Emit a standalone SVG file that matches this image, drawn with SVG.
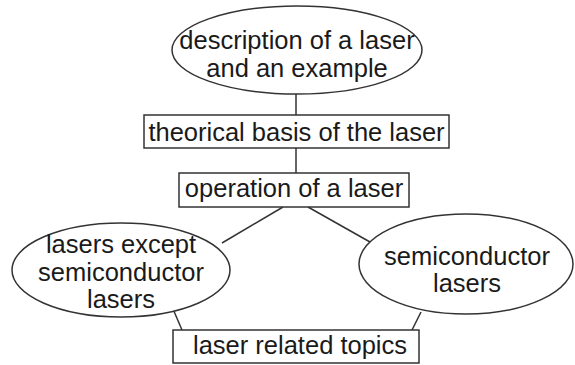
<svg xmlns="http://www.w3.org/2000/svg" width="575" height="365" viewBox="0 0 575 365">
<style>
.s{fill:#fff;stroke:#333;stroke-width:1.5}
.c{fill:none;stroke:#333;stroke-width:1.5}
text{font-family:"Liberation Sans",Arial,sans-serif;font-size:25.5px;fill:#1a1a1a;text-anchor:middle}
</style>
<rect width="575" height="365" fill="#fff"/>
<g id="connectors">
<line class="c" x1="296" y1="94" x2="296" y2="116"/>
<line class="c" x1="296" y1="148" x2="296" y2="173"/>
<line class="c" x1="283" y1="207" x2="222" y2="243"/>
<line class="c" x1="308" y1="207" x2="370" y2="242"/>
<line class="c" x1="173" y1="309" x2="182" y2="330"/>
<line class="c" x1="421" y1="312" x2="412" y2="330"/>
</g>
<g id="n1">
<ellipse class="s" cx="297" cy="50" rx="125" ry="44"/>
<text x="297" y="49">description of a laser</text>
<text x="297" y="77">and an example</text>
</g>
<g id="n2">
<rect class="s" x="144" y="115" width="305" height="33"/>
<text x="296.5" y="141">theorical basis of the laser</text>
</g>
<g id="n3">
<rect class="s" x="179" y="173" width="230" height="34"/>
<text x="294" y="197">operation of a laser</text>
</g>
<g id="n4">
<ellipse class="s" cx="121" cy="270" rx="109" ry="47"/>
<text x="121" y="253">lasers except</text>
<text x="121" y="281">semiconductor</text>
<text x="121" y="308">lasers</text>
</g>
<g id="n5">
<ellipse class="s" cx="466" cy="264" rx="107" ry="50"/>
<text x="467" y="265">semiconductor</text>
<text x="467" y="292">lasers</text>
</g>
<g id="n6">
<rect class="s" x="173" y="330" width="246" height="33"/>
<text x="300" y="354">laser related topics</text>
</g>
</svg>
